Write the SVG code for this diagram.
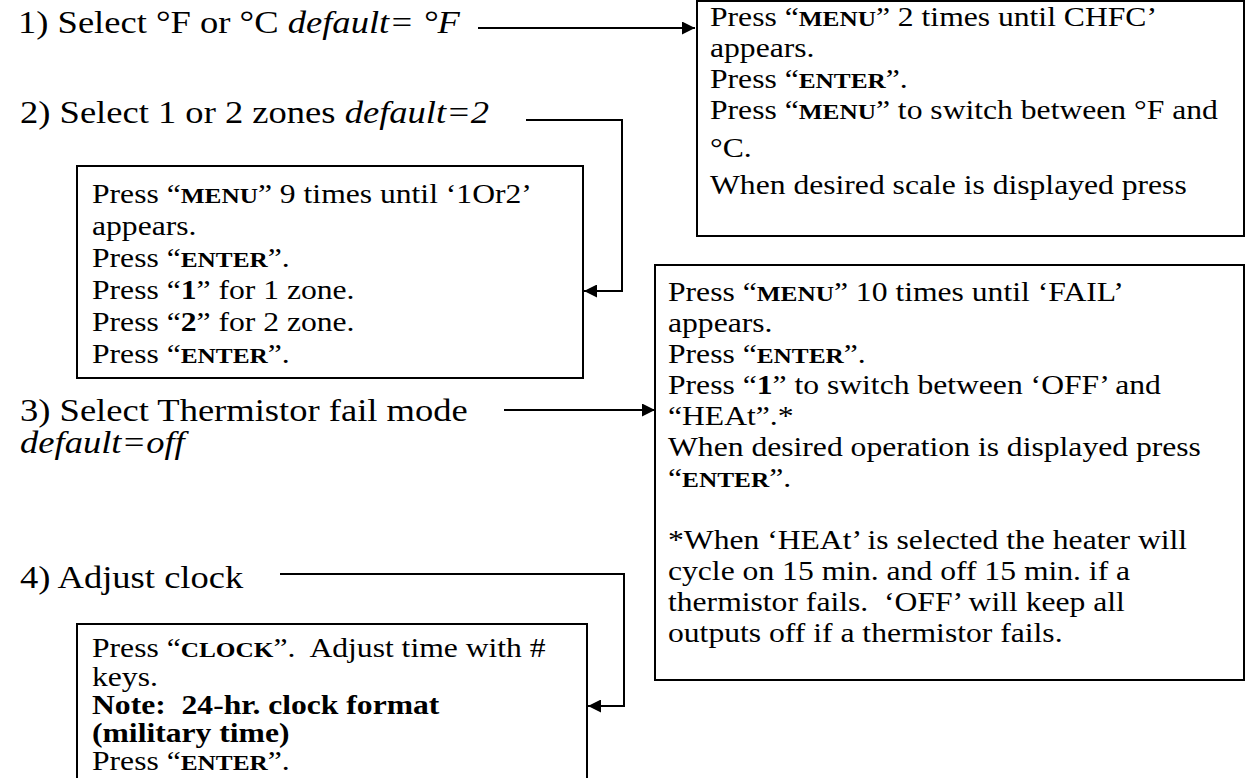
<svg xmlns="http://www.w3.org/2000/svg" width="1246" height="778" viewBox="0 0 1246 778">
  <defs>
    <marker id="arrow" viewBox="0 0 10 10" refX="10" refY="5" markerWidth="15" markerHeight="13" markerUnits="userSpaceOnUse" orient="auto">
      <path d="M0,0 L10,5 L0,10 z" fill="#000"/>
    </marker>
    <style>
      .step { font-family: "Liberation Serif", "Times New Roman", serif; font-size: 31.5px; fill: #000; }
      .body { font-family: "Liberation Serif", "Times New Roman", serif; font-size: 27.5px; fill: #000; white-space: pre; }
      .key { font-weight: bold; font-size: 22px; }
      .b { font-weight: bold; }
      .it { font-style: italic; }
      .box { fill: #fff; stroke: #000; stroke-width: 2; }
      .wire { fill: none; stroke: #000; stroke-width: 2; }
    </style>
  </defs>
  <rect width="1246" height="778" fill="#fff"/>

  <!-- step labels (type set a little wide) -->
  <g id="step1" transform="translate(18,0) scale(1.16,1)"><text class="step" x="0" y="33">1) Select °F or °C <tspan class="it">default= °F</tspan></text></g>
  <g id="step2" transform="translate(20,0) scale(1.16,1)"><text class="step" x="0" y="123">2) Select 1 or 2 zones <tspan class="it">default=2</tspan></text></g>
  <g id="step3" transform="translate(20,0) scale(1.16,1)">
    <text class="step" x="0" y="421">3) Select Thermistor fail mode</text>
    <text class="step it" x="0" y="453">default=off</text>
  </g>
  <g id="step4" transform="translate(20,0) scale(1.16,1)"><text class="step" x="0" y="588">4) Adjust clock</text></g>

  <!-- unit scale box -->
  <g id="box-scale">
    <rect class="box" x="697" y="1" width="547" height="235"/>
    <g transform="translate(710,0) scale(1.15,1)">
      <text class="body" x="0" y="26">Press “<tspan class="key">MENU</tspan>” 2 times until CHFC’</text>
      <text class="body" x="0" y="57">appears.</text>
      <text class="body" x="0" y="88">Press “<tspan class="key">ENTER</tspan>”.</text>
      <text class="body" x="0" y="119">Press “<tspan class="key">MENU</tspan>” to switch between °F and</text>
      <text class="body" x="0" y="157">°C.</text>
      <text class="body" x="0" y="194">When desired scale is displayed press</text>
    </g>
  </g>

  <!-- zones box -->
  <g id="box-zones">
    <rect class="box" x="77" y="166" width="506" height="212"/>
    <g transform="translate(92,0) scale(1.15,1)">
      <text class="body" x="0" y="203">Press “<tspan class="key">MENU</tspan>” 9 times until ‘1Or2’</text>
      <text class="body" x="0" y="235">appears.</text>
      <text class="body" x="0" y="267">Press “<tspan class="key">ENTER</tspan>”.</text>
      <text class="body" x="0" y="299">Press “<tspan class="b">1</tspan>” for 1 zone.</text>
      <text class="body" x="0" y="331">Press “<tspan class="b">2</tspan>” for 2 zone.</text>
      <text class="body" x="0" y="363">Press “<tspan class="key">ENTER</tspan>”.</text>
    </g>
  </g>

  <!-- thermistor fail box -->
  <g id="box-fail">
    <rect class="box" x="655" y="265" width="589" height="415"/>
    <g transform="translate(668,0) scale(1.15,1)">
      <text class="body" x="0" y="301">Press “<tspan class="key">MENU</tspan>” 10 times until ‘FAIL’</text>
      <text class="body" x="0" y="332">appears.</text>
      <text class="body" x="0" y="363">Press “<tspan class="key">ENTER</tspan>”.</text>
      <text class="body" x="0" y="394">Press “<tspan class="b">1</tspan>” to switch between ‘OFF’ and</text>
      <text class="body" x="0" y="425">“HEAt”.*</text>
      <text class="body" x="0" y="456">When desired operation is displayed press</text>
      <text class="body" x="0" y="487">“<tspan class="key">ENTER</tspan>”.</text>
      <text class="body" x="0" y="549">*When ‘HEAt’ is selected the heater will</text>
      <text class="body" x="0" y="580">cycle on 15 min. and off 15 min. if a</text>
      <text class="body" x="0" y="611">thermistor fails.  ‘OFF’ will keep all</text>
      <text class="body" x="0" y="642">outputs off if a thermistor fails.</text>
    </g>
  </g>

  <!-- clock box -->
  <g id="box-clock">
    <rect class="box" x="77" y="624" width="510" height="170"/>
    <g transform="translate(92,0) scale(1.15,1)">
      <text class="body" x="0" y="657">Press “<tspan class="key">CLOCK</tspan>”.  Adjust time with #</text>
      <text class="body" x="0" y="686">keys.</text>
      <text class="body b" x="0" y="714">Note:  24-hr. clock format</text>
      <text class="body b" x="0" y="742">(military time)</text>
      <text class="body" x="0" y="770">Press “<tspan class="key">ENTER</tspan>”.</text>
    </g>
  </g>

  <!-- connectors -->
  <g id="connectors">
    <path class="wire" d="M478,28 H695" marker-end="url(#arrow)"/>
    <path class="wire" d="M526,120 H622 V291 H584" marker-end="url(#arrow)"/>
    <path class="wire" d="M504,410 H655" marker-end="url(#arrow)"/>
    <path class="wire" d="M280,574 H624 V706 H588" marker-end="url(#arrow)"/>
  </g>
</svg>
